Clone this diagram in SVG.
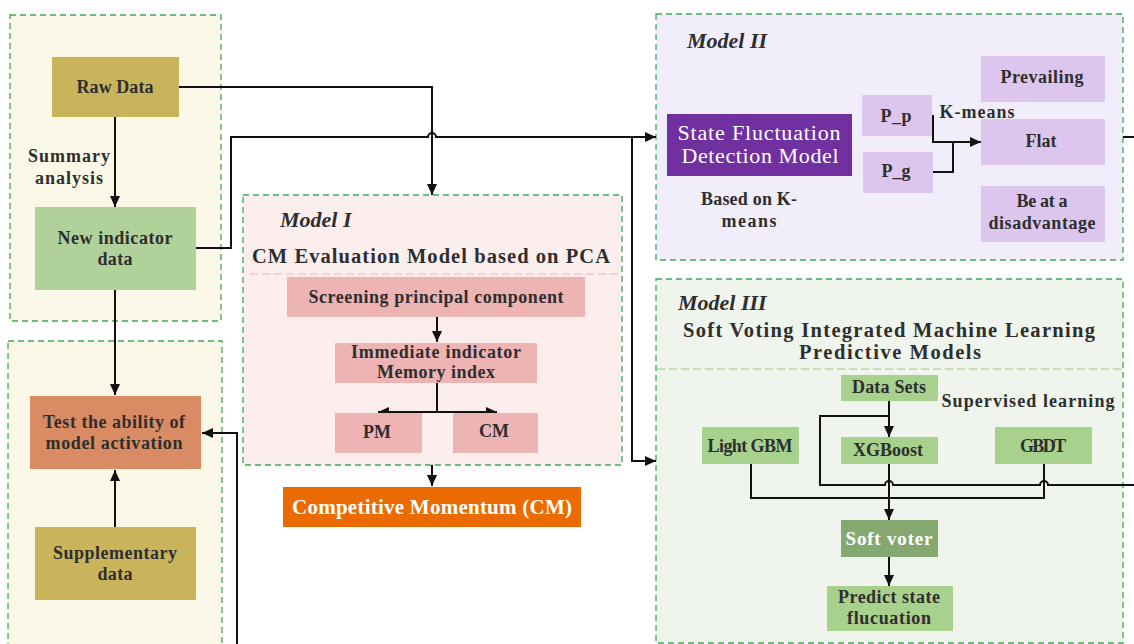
<svg xmlns="http://www.w3.org/2000/svg" width="1134" height="644" viewBox="0 0 1134 644">
<style>
.cont{stroke:#3fa85a;stroke-width:1.3;stroke-dasharray:6 4}
.t{font-family:"Liberation Serif","Times New Roman",serif;font-weight:bold;font-size:18px;fill:#2e2e2e;text-anchor:middle}
.title{font-family:"Liberation Serif","Times New Roman",serif;font-weight:bold;font-style:italic;font-size:22px;fill:#2e2e2e}
.big{font-size:20.5px}
.w{fill:#fff}
.cmt{font-size:21px}
.sfd{font-size:22px;font-weight:normal}
.sv{font-size:19px}
.ln{fill:none;stroke:#111;stroke-width:2}
.arr{marker-end:url(#ah)}
</style>
<defs>
<marker id="ah" markerUnits="userSpaceOnUse" markerWidth="12" markerHeight="12" viewBox="0 0 12 12" refX="11" refY="6" orient="auto">
<path d="M0,1 L11,6 L0,11 z" fill="#111"/>
</marker>
</defs>
<rect width="1134" height="644" fill="#fff"/>

<g id="containers">
<rect id="left-top" class="cont" x="10" y="15" width="211" height="306" fill="#fcf8e8"/>
<rect id="left-bottom" class="cont" x="8" y="341" width="214" height="310" fill="#fcf8e8"/>
<rect id="model1" class="cont" x="243" y="195" width="379" height="270" fill="#fdeeee"/>
<line x1="250" y1="274" x2="620" y2="274" stroke="#f0b0c0" stroke-width="1.2" stroke-dasharray="8 4"/>
<rect id="model2" class="cont" x="656" y="14" width="467" height="246" fill="#f1edfa"/>
<rect id="model3" class="cont" x="656" y="279" width="467" height="364" fill="#eff4ec"/>
<line x1="657" y1="369" x2="1122" y2="369" stroke="#a8c878" stroke-width="1.2" stroke-dasharray="8 4"/>
</g>

<g id="connectors">
<path class="ln arr" d="M179,87 H432 V195"/>
<path class="ln arr" d="M196,248 H231 V137 H428 A4,4 0 0 1 436,137 H656"/>
<path class="ln arr" d="M632,137 V461 H656"/>
<path class="ln arr" d="M115,117 V207"/>
<path class="ln arr" d="M115,290 V395"/>
<path class="ln arr" d="M115,527 V470"/>
<path class="ln arr" d="M237,644 V433 H202"/>
<path class="ln arr" d="M437,317 V342"/>
<path class="ln" d="M437,383 V412"/>
<path class="ln arr" d="M437,412 H378"/>
<path class="ln arr" d="M437,412 H497"/>
<path class="ln arr" d="M432,465 V486"/>
<path class="ln" d="M933,115 V142"/>
<path class="ln arr" d="M932,142 H981"/>
<path class="ln" d="M933,172 H953 V142"/>
<path class="ln" d="M1123,137 H1134"/>
<path class="ln arr" d="M889,401 V437"/>
<path class="ln" d="M889,416 H820 V485 H885 A4,4 0 0 1 893,485 H1040 A4,4 0 0 1 1048,485 H1134"/>
<path class="ln" d="M751,464 V498 H1044 V464"/>
<path class="ln arr" d="M889,464 V520"/>
<path class="ln arr" d="M889,557 V586"/>
</g>

<g id="raw-data"><rect x="52" y="57" width="127" height="60" fill="#c9b45c"/><text class="t" x="115" y="93" textLength="77">Raw Data</text></g>
<g id="summary-label"><text class="t" x="69" y="162" textLength="82">Summary</text><text class="t" x="69" y="184" textLength="68">analysis</text></g>
<g id="new-indicator"><rect x="35" y="207" width="161" height="83" fill="#b1d19a"/><text class="t" x="115" y="244" textLength="115">New indicator</text><text class="t" x="115" y="265" textLength="35">data</text></g>
<g id="test-ability"><rect x="30" y="396" width="171" height="73" fill="#d98b63"/><text class="t" x="114" y="428" textLength="142">Test the ability of</text><text class="t" x="114" y="449" textLength="137">model activation</text></g>
<g id="supplementary"><rect x="35" y="527" width="161" height="73" fill="#c9b45c"/><text class="t" x="115" y="559" textLength="124">Supplementary</text><text class="t" x="115" y="580" textLength="35">data</text></g>

<g id="model1-title"><text class="title" x="280" y="227">Model I</text><text class="t big" x="431" y="263" textLength="358">CM Evaluation Model based on PCA</text></g>
<g id="screening"><rect x="287" y="277" width="298" height="40" fill="#eeb3b3"/><text class="t" x="436" y="303" textLength="255">Screening principal component</text></g>
<g id="immediate"><rect x="335" y="343" width="202" height="40" fill="#eeb3b3"/><text class="t" x="436" y="358" textLength="170">Immediate indicator</text><text class="t" x="436" y="378" textLength="118">Memory index</text></g>
<g id="pm"><rect x="335" y="413" width="87" height="40" fill="#eeb3b3"/><text class="t" x="377" y="438">PM</text></g>
<g id="cm"><rect x="453" y="413" width="85" height="40" fill="#eeb3b3"/><text class="t" x="494" y="437">CM</text></g>
<g id="competitive"><rect x="283" y="487" width="298" height="40" fill="#ec6b00"/><text class="t w cmt" x="432" y="514" textLength="280">Competitive Momentum (CM)</text></g>

<g id="model2-title"><text class="title" x="687" y="48">Model II</text></g>
<g id="state-fluct"><rect x="667" y="114" width="185" height="62" fill="#7030a0"/><text class="t w sfd" x="759" y="140" textLength="163">State Fluctuation</text><text class="t w sfd" x="760" y="163" textLength="157">Detection Model</text></g>
<g id="based-label"><text class="t" x="749" y="205" textLength="96">Based on K-</text><text class="t" x="749" y="227" textLength="55">means</text></g>
<g id="pp"><rect x="862" y="95" width="70" height="41" fill="#dcc6ee"/><text class="t" x="896" y="122" textLength="31">P_p</text></g>
<g id="pg"><rect x="863" y="152" width="70" height="41" fill="#dcc6ee"/><text class="t" x="896" y="177" textLength="29">P_g</text></g>
<g id="kmeans-label"><text class="t" x="977" y="118" textLength="75">K-means</text></g>
<g id="prevailing"><rect x="981" y="56" width="124" height="46" fill="#dcc6ee"/><text class="t" x="1042" y="83" textLength="83">Prevailing</text></g>
<g id="flat"><rect x="981" y="119" width="124" height="46" fill="#dcc6ee"/><text class="t" x="1041" y="147" textLength="31">Flat</text></g>
<g id="disadvantage"><rect x="981" y="186" width="124" height="56" fill="#dcc6ee"/><text class="t" x="1042" y="207" textLength="51">Be at a</text><text class="t" x="1042" y="229" textLength="107">disadvantage</text></g>

<g id="model3-title"><text class="title" x="678" y="310">Model III</text><text class="t big" x="889" y="337" textLength="412">Soft Voting Integrated Machine Learning</text><text class="t big" x="890" y="359" textLength="182">Predictive Models</text></g>
<g id="data-sets"><rect x="841" y="375" width="97" height="26" fill="#a9d18e"/><text class="t" x="889" y="393" textLength="74">Data Sets</text></g>
<g id="supervised-label"><text class="t" x="1028" y="407" textLength="173">Supervised learning</text></g>
<g id="lightgbm"><rect x="702" y="427" width="97" height="37" fill="#a9d18e"/><text class="t" x="750" y="452" textLength="85">Light GBM</text></g>
<g id="xgboost"><rect x="841" y="437" width="97" height="27" fill="#a9d18e"/><text class="t" x="888" y="456" textLength="70">XGBoost</text></g>
<g id="gbdt"><rect x="995" y="427" width="97" height="37" fill="#a9d18e"/><text class="t" x="1043" y="452" textLength="46">GBDT</text></g>
<g id="soft-voter"><rect x="841" y="520" width="97" height="37" fill="#84a870"/><text class="t w sv" x="889" y="545" textLength="87">Soft voter</text></g>
<g id="predict"><rect x="827" y="586" width="126" height="45" fill="#a9d18e"/><text class="t" x="889" y="603" textLength="102">Predict state</text><text class="t" x="889" y="624" textLength="84">flucuation</text></g>
</svg>
